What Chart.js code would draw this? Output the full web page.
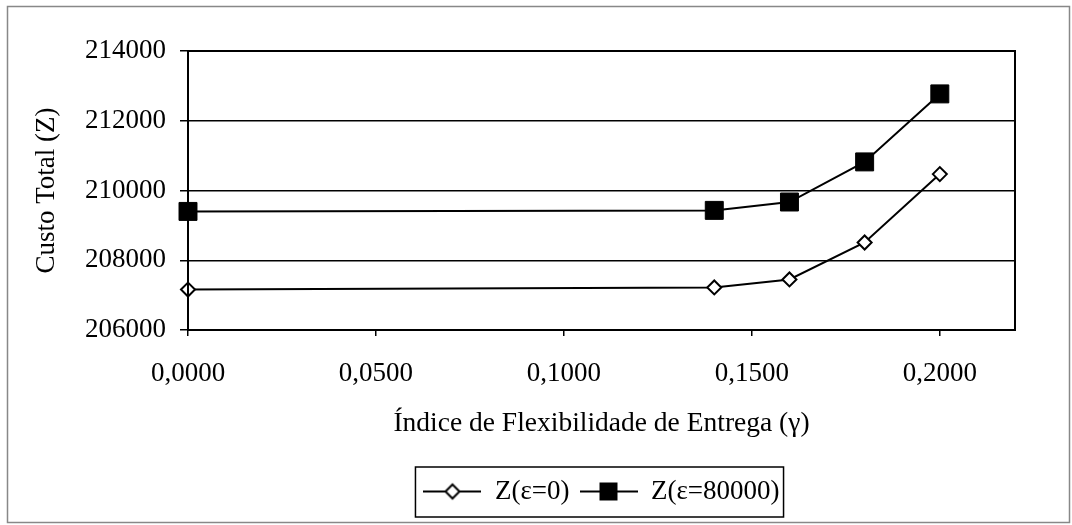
<!DOCTYPE html>
<html lang="pt">
<head>
    <meta charset="UTF-8">
    <title>Custo Total x Índice de Flexibilidade</title>
    <script src="https://cdn.jsdelivr.net/npm/chart.js"></script>
    <style>
        body { margin: 0; background: #fff; }
        #wrap { position: relative; width: 1072px; height: 525px; }
    </style>
</head>
<body>
<div id="wrap"><canvas id="custoChart" width="1072" height="525"></canvas></div>
<script>
    // valores
    var gamma = [0, 0.14, 0.16, 0.18, 0.20];
    var zEps0 = [207160, 207220, 207450, 208510, 210470];
    var zEps80000 = [209400, 209430, 209670, 210820, 212770];
    var seriesNames = ['Z(ε=0)', 'Z(ε=80000)'];
    var yTicks = [206000, 208000, 210000, 212000, 214000];
    var xTicks = [0, 0.05, 0.10, 0.15, 0.20];

    var FONT = "'Liberation Serif', 'Times New Roman', serif";

    function toPoints(ys) {
        return gamma.map(function (g, i) { return { x: g, y: ys[i] }; });
    }

    // simbolo da legenda: linha com marcador no meio
    function legendSymbol(kind) {
        var c = document.createElement('canvas');
        c.width = 58; c.height = 22;
        var g = c.getContext('2d');
        g.strokeStyle = '#000';
        g.lineWidth = 2;
        g.beginPath(); g.moveTo(0, 11); g.lineTo(58, 11); g.stroke();
        if (kind === 'diamond') {
            g.fillStyle = '#fff';
            g.beginPath();
            g.moveTo(29, 4); g.lineTo(36, 11); g.lineTo(29, 18); g.lineTo(22, 11); g.closePath();
            g.fill(); g.stroke();
        } else {
            g.fillStyle = '#000';
            g.fillRect(20, 2, 18, 18);
        }
        return c;
    }
    var symbols = [legendSymbol('diamond'), legendSymbol('square')];

    // moldura externa, moldura da area do grafico e caixa da legenda
    var framePlugin = {
        id: 'frames',
        afterDraw: function (chart) {
            var ctx = chart.ctx, a = chart.chartArea;
            ctx.save();
            ctx.strokeStyle = '#888';
            ctx.lineWidth = 1.5;
            ctx.strokeRect(7.5, 6.5, 1062, 516);
            ctx.strokeStyle = '#000';
            ctx.lineWidth = 2;
            ctx.strokeRect(a.left, a.top, a.right - a.left, a.bottom - a.top);
            var boxes = chart.legend.legendHitBoxes;
            if (boxes && boxes.length) {
                var first = boxes[0], last = boxes[boxes.length - 1];
                var x0 = first.left - 8, x1 = last.left + last.width + 4;
                ctx.lineWidth = 1.5;
                ctx.strokeRect(x0, first.top - 11, x1 - x0, 50);
            }
            ctx.restore();
        }
    };

    // legenda com altura fixa e centrada sob a area do grafico
    var legendLayout = {
        id: 'legendLayout',
        beforeInit: function (chart) {
            var origFit = chart.legend.fit;
            chart.legend.fit = function () {
                origFit.call(this);
                this.height = 57;
            };
        },
        afterLayout: function (chart) {
            var lg = chart.legend, a = chart.chartArea;
            lg.left = a.left;
            lg.right = a.right;
            lg.width = a.right - a.left;
        }
    };

    var ctx = document.getElementById('custoChart').getContext('2d');
    var chart = new Chart(ctx, {
        type: 'scatter',
        data: {
            datasets: [{
                label: seriesNames[0],
                data: toPoints(zEps0),
                showLine: true,
                clip: false,
                borderColor: '#000',
                borderWidth: 2,
                pointStyle: 'rectRot',
                pointRadius: 7,
                pointBackgroundColor: '#fff',
                pointBorderColor: '#000',
                pointBorderWidth: 2
            }, {
                label: seriesNames[1],
                data: toPoints(zEps80000),
                showLine: true,
                clip: false,
                borderColor: '#000',
                borderWidth: 2,
                pointStyle: 'rect',
                pointRadius: 12.7,
                pointBackgroundColor: '#000',
                pointBorderColor: '#000',
                pointBorderWidth: 1
            }]
        },
        options: {
            responsive: false,
            animation: false,
            layout: { padding: { left: 8, right: 57, top: 51, bottom: 0 } },
            plugins: {
                tooltip: { enabled: false },
                legend: {
                    position: 'bottom',
                    labels: {
                        usePointStyle: true,
                        pointStyleWidth: 58,
                        padding: 10,
                        color: '#000',
                        font: { family: FONT, size: 27 },
                        generateLabels: function (c) {
                            return c.data.datasets.map(function (ds, i) {
                                return {
                                    text: ds.label,
                                    pointStyle: symbols[i],
                                    datasetIndex: i,
                                    hidden: false,
                                    lineWidth: 0,
                                    fontColor: '#000'
                                };
                            });
                        }
                    }
                }
            },
            scales: {
                x: {
                    type: 'linear',
                    min: 0,
                    max: 0.22,
                    afterFit: function (s) { s.height = 138; },
                    afterBuildTicks: function (s) {
                        s.ticks = xTicks.map(function (v) { return { value: v }; });
                    },
                    ticks: {
                        color: '#000',
                        padding: 22,
                        font: { family: FONT, size: 27 },
                        callback: function (v) { return v.toFixed(4).replace('.', ','); }
                    },
                    grid: { drawOnChartArea: false, drawTicks: true, tickLength: 6, color: '#000', lineWidth: 1.5 },
                    border: { color: '#000', width: 2 },
                    title: {
                        display: true,
                        text: 'Índice de Flexibilidade de Entrega (γ)',
                        color: '#000',
                        font: { family: FONT, size: 27.5 },
                        padding: { top: 0, bottom: 28 }
                    }
                },
                y: {
                    min: 206000,
                    max: 214000,
                    afterFit: function (s) { s.width = 180; },
                    afterBuildTicks: function (s) {
                        s.ticks = yTicks.map(function (v) { return { value: v }; });
                    },
                    ticks: {
                        color: '#000',
                        padding: 14,
                        font: { family: FONT, size: 27 },
                        callback: function (v) { return String(v); }
                    },
                    grid: { color: '#000', lineWidth: 1.5, tickLength: 8 },
                    border: { color: '#000', width: 2 },
                    title: {
                        display: true,
                        text: 'Custo Total (Z)',
                        color: '#000',
                        font: { family: FONT, size: 27 },
                        padding: { top: 23, bottom: 0 }
                    }
                }
            }
        },
        plugins: [framePlugin, legendLayout]
    });
</script>
</body>
</html>
